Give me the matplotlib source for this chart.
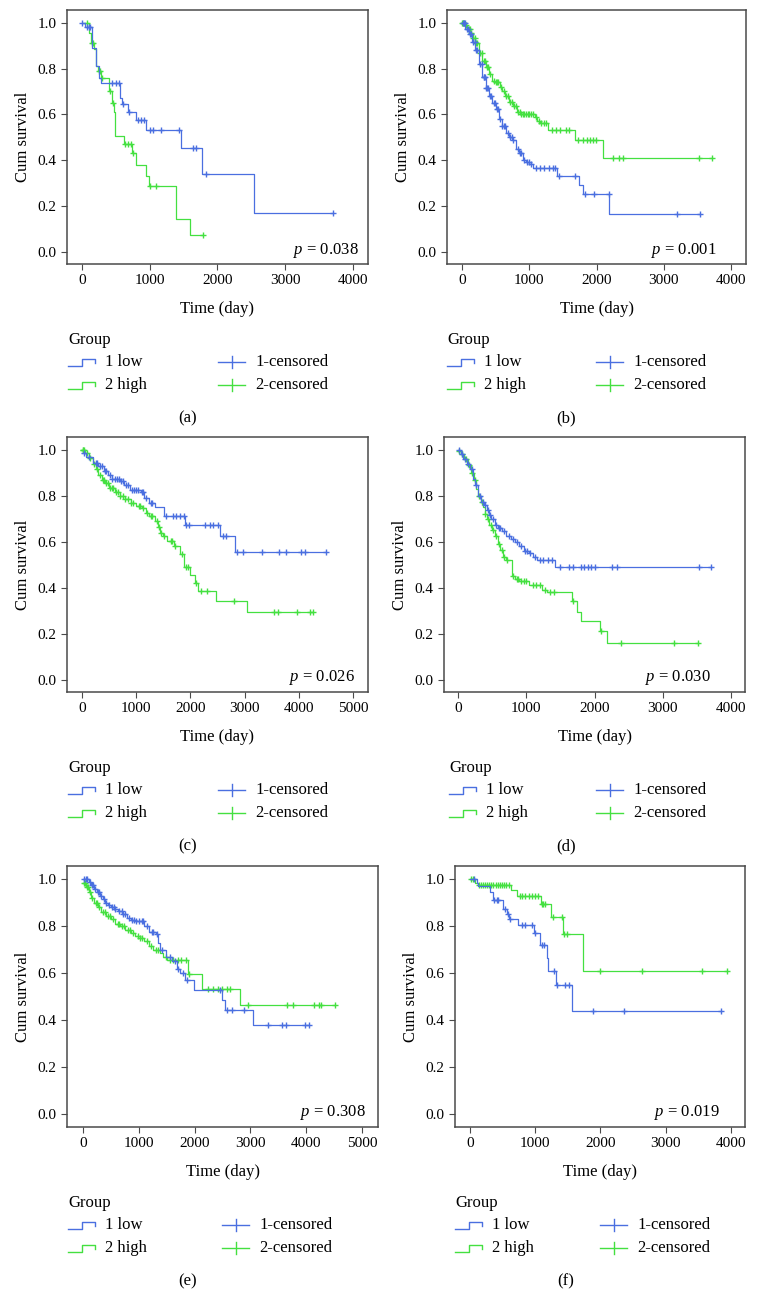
import numpy as np
import matplotlib
matplotlib.use('Agg')
import matplotlib.pyplot as plt
from matplotlib.lines import Line2D

plt.rcParams['font.family'] = ['Liberation Serif', 'DejaVu Serif']
plt.rcParams['mathtext.fontset'] = 'custom'
plt.rcParams['mathtext.it'] = 'Liberation Serif:italic'
plt.rcParams['mathtext.rm'] = 'Liberation Serif'

# ---------------- data ----------------
# step curves: time of each drop (days) and survival after it; censor times
a_low_t = [0, 40, 150, 210, 250, 285, 555, 595, 680, 800, 950, 1456, 1771, 2535]
a_low_s = [1.0, 0.98, 0.89, 0.81, 0.76, 0.735, 0.67, 0.645, 0.61, 0.575, 0.53, 0.455, 0.34, 0.17]
a_low_c = [5, 75, 105, 123, 448, 497, 541, 610, 690, 828, 877, 917, 1010, 1048, 1161, 1432, 1639, 1688, 1835, 3705]
a_high_t = [0, 100, 140, 185, 210, 235, 285, 395, 440, 470, 495, 615, 745, 800, 945, 985, 1392, 1600]
a_high_s = [1.0, 0.955, 0.91, 0.885, 0.81, 0.79, 0.76, 0.70, 0.65, 0.61, 0.505, 0.47, 0.43, 0.38, 0.33, 0.285, 0.142, 0.072]
a_high_c = [75, 150, 165, 245, 265, 300, 410, 460, 630, 680, 720, 760, 998, 1087, 1786]

b_low_t = [0, 50, 100, 150, 200, 250, 300, 350, 400, 450, 500, 550, 600, 650, 700, 750, 800, 850, 900, 950, 1000, 1050, 1420, 1740, 1800, 2190]
b_low_s = [1.0, 0.975, 0.95, 0.915, 0.88, 0.82, 0.765, 0.715, 0.68, 0.65, 0.625, 0.58, 0.55, 0.52, 0.50, 0.49, 0.45, 0.43, 0.40, 0.39, 0.385, 0.365, 0.33, 0.29, 0.25, 0.165]
b_low_c = [10, 25, 40, 70, 90, 120, 140, 160, 190, 210, 230, 270, 290, 320, 330, 345, 360, 370, 390, 410, 430, 480, 490,
           520, 540, 560, 600, 620, 640, 680, 710, 740, 760, 830, 860, 870, 920, 960, 990, 1020, 1100, 1160, 1220, 1300,
           1350, 1380, 1440, 1680, 1830, 1970, 2180, 3200, 3540]
b_high_t = [0, 40, 80, 120, 160, 200, 250, 300, 350, 400, 450, 480, 560, 600, 640, 700, 760, 820, 870, 1080, 1120, 1160, 1280, 1680, 2090]
b_high_s = [1.0, 0.99, 0.975, 0.955, 0.935, 0.91, 0.87, 0.835, 0.805, 0.775, 0.745, 0.74, 0.72, 0.70, 0.68, 0.655, 0.635, 0.61, 0.60, 0.59, 0.57, 0.56, 0.53, 0.49, 0.41]
b_high_c = [5, 20, 35, 60, 100, 115, 130, 170, 190, 210, 230, 270, 290, 320, 340, 370, 390, 420, 470, 500, 520, 540, 580,
            620, 660, 680, 720, 740, 780, 800, 840, 860, 880, 900, 920, 950, 980, 1000, 1030, 1060, 1100, 1140, 1180, 1220,
            1250, 1340, 1400, 1460, 1550, 1590, 1730, 1800, 1860, 1900, 1950, 1990, 2250, 2330, 2390, 3520, 3720]

c_low_t = [0, 80, 200, 300, 400, 480, 560, 700, 780, 880, 1080, 1150, 1240, 1340, 1507, 1906, 2540, 2817]
c_low_s = [0.985, 0.97, 0.945, 0.93, 0.91, 0.89, 0.875, 0.865, 0.845, 0.825, 0.815, 0.79, 0.77, 0.75, 0.71, 0.675, 0.625, 0.555]
c_low_c = [30, 130, 250, 280, 330, 360, 420, 450, 520, 560, 600, 640, 680, 720, 760, 820, 850, 920, 960, 1000, 1040, 1100,
           1130, 1180, 1280, 1300, 1544, 1679, 1740, 1802, 1876, 1925, 1968, 2263, 2355, 2417, 2509, 2601, 2663, 2860,
           2970, 3320, 3635, 3770, 4047, 4108, 4496]
c_high_t = [0, 60, 120, 200, 260, 300, 360, 420, 500, 600, 700, 800, 900, 1000, 1100, 1180, 1240, 1350, 1400, 1440, 1500,
            1560, 1700, 1800, 1880, 2000, 2080, 2140, 2478, 3044]
c_high_s = [1.0, 0.985, 0.965, 0.94, 0.915, 0.89, 0.87, 0.855, 0.835, 0.815, 0.80, 0.785, 0.77, 0.755, 0.745, 0.725, 0.71,
            0.69, 0.665, 0.64, 0.625, 0.605, 0.58, 0.545, 0.49, 0.455, 0.42, 0.385, 0.344, 0.294]
c_high_c = [10, 25, 40, 90, 150, 230, 280, 330, 380, 400, 450, 480, 520, 550, 580, 630, 660, 700, 750, 800, 850, 900, 950,
            1050, 1070, 1120, 1200, 1280, 1300, 1380, 1420, 1460, 1520, 1640, 1660, 1720, 1850, 1920, 1960, 2100, 2200,
            2300, 2800, 3536, 3616, 3973, 4200, 4262]

d_low_t = [0, 40, 80, 130, 180, 220, 250, 290, 340, 380, 420, 460, 490, 540, 580, 640, 700, 780, 840, 900, 960, 1040, 1100, 1160, 1420]
d_low_s = [1.0, 0.98, 0.96, 0.94, 0.915, 0.875, 0.845, 0.80, 0.775, 0.76, 0.74, 0.715, 0.70, 0.675, 0.66, 0.645, 0.625,
           0.61, 0.60, 0.58, 0.56, 0.55, 0.535, 0.52, 0.488]
d_low_c = [10, 60, 100, 150, 200, 270, 320, 360, 400, 440, 470, 520, 560, 600, 620, 680, 740, 800, 870, 930, 980, 1010,
           1060, 1130, 1200, 1250, 1320, 1380, 1500, 1620, 1680, 1800, 1850, 1900, 1950, 2000, 2250, 2330, 3530, 3700]
d_high_t = [0, 40, 90, 140, 190, 230, 270, 300, 330, 360, 390, 420, 460, 500, 540, 580, 620, 660, 700, 790, 840, 900, 1040,
            1230, 1300, 1670, 1744, 1802, 2085, 2183]
d_high_s = [0.995, 0.98, 0.96, 0.935, 0.90, 0.87, 0.83, 0.80, 0.775, 0.75, 0.72, 0.70, 0.675, 0.65, 0.625, 0.59, 0.565,
            0.535, 0.52, 0.45, 0.44, 0.43, 0.41, 0.39, 0.38, 0.34, 0.295, 0.255, 0.21, 0.16]
d_high_c = [20, 60, 110, 160, 210, 250, 310, 350, 400, 440, 480, 520, 560, 600, 640, 680, 720, 810, 860, 880, 920, 960,
            1000, 1100, 1150, 1200, 1270, 1350, 1400, 1690, 2090, 2388, 3170, 3512]

e_low_t = [0, 100, 150, 200, 250, 300, 350, 400, 450, 500, 560, 620, 700, 780, 860, 940, 1100, 1180, 1300, 1340, 1380,
           1480, 1600, 1680, 1740, 1830, 1990, 2485, 2545, 3054]
e_low_s = [1.0, 0.99, 0.975, 0.96, 0.945, 0.93, 0.915, 0.90, 0.89, 0.88, 0.875, 0.865, 0.85, 0.835, 0.825, 0.82, 0.80,
           0.775, 0.765, 0.73, 0.70, 0.67, 0.65, 0.62, 0.60, 0.57, 0.53, 0.485, 0.445, 0.38]
e_low_c = [20, 50, 80, 130, 160, 180, 220, 270, 290, 320, 370, 420, 470, 520, 550, 580, 650, 690, 720, 760, 820, 880, 920,
           950, 1000, 1050, 1080, 1150, 1230, 1260, 1320, 1420, 1560, 1640, 1700, 1790, 1870, 2460, 2575, 2677, 2892,
           3323, 3563, 3641, 3982, 4042]
e_high_t = [0, 50, 100, 150, 200, 260, 330, 420, 500, 580, 660, 760, 860, 940, 1020, 1100, 1180, 1260, 1380, 1440, 1500,
            1886, 2126, 2814]
e_high_s = [0.985, 0.965, 0.945, 0.92, 0.90, 0.88, 0.86, 0.845, 0.83, 0.81, 0.80, 0.785, 0.77, 0.76, 0.75, 0.735, 0.715,
            0.70, 0.685, 0.67, 0.655, 0.598, 0.533, 0.465]
e_high_c = [10, 30, 70, 90, 120, 170, 230, 250, 290, 360, 390, 450, 480, 540, 620, 650, 700, 730, 800, 840, 900, 980, 1030,
            1060, 1140, 1220, 1300, 1340, 1480, 1560, 1620, 1700, 1760, 1840, 1900, 2245, 2335, 2425, 2485, 2575, 2635,
            2964, 3653, 3772, 4132, 4222, 4264, 4521]

f_low_t = [0, 100, 128, 306, 357, 510, 562, 603, 740, 981, 1073, 1185, 1200, 1318, 1558]
f_low_s = [1.0, 0.985, 0.973, 0.945, 0.91, 0.875, 0.85, 0.83, 0.805, 0.77, 0.72, 0.665, 0.61, 0.55, 0.44]
f_low_c = [60, 373, 409, 434, 530, 590, 620, 792, 843, 945, 1000, 1100, 1140, 1287, 1338, 1456, 1517, 1880, 2365, 3842]
f_high_t = [0, 80, 128, 623, 715, 1083, 1241, 1420, 1737]
f_high_s = [1.0, 0.985, 0.975, 0.955, 0.93, 0.895, 0.84, 0.765, 0.61]
f_high_c = [10, 50, 140, 170, 200, 230, 260, 290, 320, 360, 400, 430, 460, 490, 520, 550, 600, 760, 800, 850, 900, 950,
            1000, 1047, 1100, 1120, 1150, 1277, 1405, 1446, 1492, 1992, 2631, 3550, 3934]

p_values = ['0.038', '0.001', '0.026', '0.030', '0.308', '0.019']
panel_labels = ['(a)', '(b)', '(c)', '(d)', '(e)', '(f)']
group_labels = ['1 low', '2 high']
censor_labels = ['1-censored', '2-censored']

# ---------------- layout ----------------
W, H = 757, 1315
BLUE = '#4a6fe0'
GREEN = '#44e040'
FRAME = '#4a4a4a'

# axes box in pixels: left, top, right, bottom ; xlim ; xmax tick ; p-value x (axes frac) ; legend left / right column x
layout = [
    ((67, 10, 368, 264), (-220, 4220), 4000, 0.97, 68, 218),
    ((447, 10, 746, 264), (-223, 4223), 4000, 0.90, 447, 596),
    ((67, 437, 368, 692), (-277, 5277), 5000, 0.957, 68, 218),
    ((444, 437, 745, 692), (-205, 4205), 4000, 0.887, 449, 596),
    ((67, 866, 378, 1127), (-287, 5287), 5000, 0.961, 68, 222),
    ((455, 866, 745, 1127), (-230, 4215), 4000, 0.914, 455, 600),
]
series = [
    (a_low_t, a_low_s, a_low_c, a_high_t, a_high_s, a_high_c),
    (b_low_t, b_low_s, b_low_c, b_high_t, b_high_s, b_high_c),
    (c_low_t, c_low_s, c_low_c, c_high_t, c_high_s, c_high_c),
    (d_low_t, d_low_s, d_low_c, d_high_t, d_high_s, d_high_c),
    (e_low_t, e_low_s, e_low_c, e_high_t, e_high_s, e_high_c),
    (f_low_t, f_low_s, f_low_c, f_high_t, f_high_s, f_high_c),
]

fig = plt.figure(figsize=(W / 100, H / 100), dpi=100)


def fx(x):
    return x / W


def fy(y):
    return 1 - y / H


def km(ax, t, s, c, color):
    t = np.asarray(t, float)
    s = np.asarray(s, float)
    c = np.asarray(c, float)
    end = max(t[-1], c.max())
    ax.step(np.append(t, end), np.append(s, s[-1]), where='post', color=color, lw=0.9)
    lev = s[np.searchsorted(t, c, side='right') - 1]
    ax.plot(c, lev, ls='none', marker='+', ms=5, mew=1.0, color=color)


def fig_line(xs, ys, color, **kw):
    fig.add_artist(Line2D([fx(x) for x in xs], [fy(y) for y in ys], transform=fig.transFigure,
                          color=color, lw=1.0, **kw))


for i in range(6):
    (l, t, r, b), xlim, xmax, px, gx, rx = layout[i]
    ax = fig.add_axes([fx(l), fy(b), (r - l) / W, (b - t) / H])
    lt, ls_, lc, ht, hs, hc = series[i]
    km(ax, ht, hs, hc, GREEN)
    km(ax, lt, ls_, lc, BLUE)

    ax.set_xlim(xlim)
    ax.set_ylim(-0.054, 1.056)
    ax.set_xticks(np.arange(0, xmax + 1, 1000))
    ax.set_yticks(np.arange(0, 1.01, 0.2))
    ax.set_yticklabels(['%.1f' % v for v in np.arange(0, 1.01, 0.2)])
    for sp in ax.spines.values():
        sp.set_color(FRAME)
        sp.set_linewidth(1.1)
    ax.tick_params(direction='out', length=4, width=0.8, color=FRAME, labelsize=11, pad=3.5)
    ax.set_xlabel('Time (day)', fontsize=12, labelpad=10)
    ax.set_ylabel('Cum survival', fontsize=12, labelpad=5)
    ax.text(px, 0.055, '$p$ = ' + p_values[i], transform=ax.transAxes, ha='right', va='center', fontsize=12)

    # legend below the panel
    gy = b + 76
    fig.text(fx(gx), fy(gy), 'Group', ha='left', va='center', fontsize=12)
    for k, col in enumerate([BLUE, GREEN]):
        y = gy + 22 + 23 * k
        fig_line([gx, gx + 14, gx + 14, gx + 27, gx + 27], [y + 4, y + 4, y - 3, y - 3, y + 1], col)
        fig.text(fx(gx + 37), fy(y), group_labels[k], ha='left', va='center', fontsize=12)
        fig_line([rx, rx + 27], [y, y], col)
        fig_line([rx + 13.5, rx + 13.5], [y - 6, y + 6], col)
        fig.text(fx(rx + 37), fy(y), censor_labels[k], ha='left', va='center', fontsize=12)

    cx = 188 if i % 2 == 0 else 566
    fig.text(fx(cx), fy(b + 154), panel_labels[i], ha='center', va='center', fontsize=12)

fig.savefig('out.png', dpi=100)
